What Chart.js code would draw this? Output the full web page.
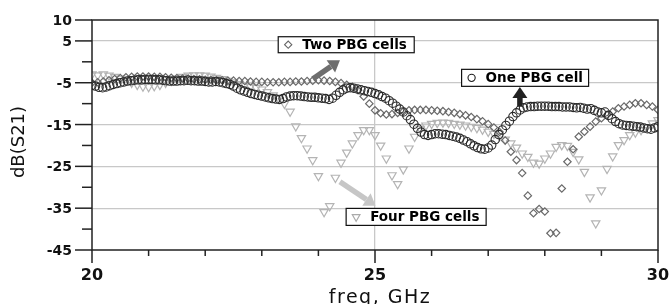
<!DOCTYPE html>
<html>
<head>
<meta charset="utf-8">
<script src="https://cdn.jsdelivr.net/npm/chart.js@4"></script>
<style>
  html, body { margin: 0; padding: 0; background: #fff; }
  canvas { display: block; }
</style>
</head>
<body>
<canvas id="chart" width="669" height="304"></canvas>
<script>
// sweep 20..30 GHz
const freqStart = 20;
const circleStep = 0.0625;
const markStep = 0.1;

// One PBG cell (circles), 161 points
const onePBG = [
  -5.6, -5.8, -6.1, -6.2, -6.0, -5.7, -5.4, -5.2, -5.0, -4.8, -4.6, -4.5, -4.4, -4.3, -4.3, -4.2,
  -4.2, -4.2, -4.3, -4.3, -4.4, -4.5, -4.6, -4.6, -4.6, -4.5, -4.5, -4.4, -4.5, -4.5, -4.6, -4.6,
  -4.7, -4.8, -4.8, -4.7, -4.8, -5.0, -5.2, -5.4, -5.8, -6.3, -6.7, -7.0, -7.3, -7.6, -7.8, -8.0,
  -8.2, -8.4, -8.6, -8.8, -8.9, -9.0, -8.8, -8.4, -8.2, -8.1, -8.1, -8.2, -8.3, -8.4, -8.5, -8.5,
  -8.6, -8.7, -8.8, -9.0, -8.7, -8.0, -7.3, -6.7, -6.3, -6.2, -6.3, -6.5, -6.7, -6.9, -7.1, -7.3,
  -7.6, -7.9, -8.3, -8.7, -9.3, -9.9, -10.6, -11.3, -12.0, -12.9, -13.8, -14.9, -15.9, -16.8, -17.4, -17.6,
  -17.4, -17.2, -17.2, -17.3, -17.4, -17.6, -17.8, -18.0, -18.3, -18.7, -19.1, -19.6, -20.1, -20.5, -20.8, -20.9,
  -20.6, -19.9, -18.6, -17.4, -16.3, -15.2, -14.2, -13.1, -12.2, -11.5, -11.0, -10.8, -10.7, -10.7, -10.6, -10.6,
  -10.6, -10.6, -10.7, -10.7, -10.7, -10.8, -10.8, -10.8, -10.9, -11.0, -10.9, -11.1, -11.3, -11.2, -11.6, -12.0,
  -12.2, -12.0, -12.8, -13.6, -14.3, -14.8, -15.1, -15.2, -15.3, -15.4, -15.5, -15.6, -15.8, -16.0, -16.1, -15.8,
  -15.5
];

// Two PBG cells (diamonds), 101 points
const twoPBG = [
  -5.0, -4.9, -4.7, -4.4, -4.1, -3.9, -3.7, -3.6, -3.5, -3.5,
  -3.5, -3.6, -3.6, -3.7, -3.8, -3.9, -4.0, -4.0, -4.1, -4.2,
  -4.3, -4.3, -4.4, -4.4, -4.5, -4.5, -4.6, -4.6, -4.7, -4.8,
  -4.8, -4.9, -4.9, -4.9, -4.8, -4.8, -4.7, -4.7, -4.6, -4.5,
  -4.4, -4.5, -4.6, -4.8, -5.1, -5.5, -6.0, -6.8, -8.3, -10.0,
  -11.6, -12.3, -12.6, -12.5, -12.2, -11.9, -11.6, -11.5, -11.5, -11.5,
  -11.6, -11.7, -11.8, -12.0, -12.2, -12.5, -12.8, -13.2, -13.7, -14.2,
  -14.9, -15.7, -16.8, -18.8, -21.5, -23.5, -26.6, -32.0, -36.2, -35.2,
  -35.8, -41.0, -40.9, -30.3, -23.9, -20.9, -17.9, -16.7, -15.5, -14.3,
  -13.5, -12.7, -11.9, -11.1, -10.7, -10.3, -9.9, -9.9, -10.3, -10.7,
  -11.5
];

// Four PBG cells (triangles), 101 points
const fourPBG = [
  -3.0, -3.2, -3.0, -3.3, -3.6, -4.0, -4.5, -5.0, -5.5, -5.9,
  -6.0, -5.8, -5.5, -5.0, -4.5, -4.0, -3.6, -3.3, -3.2, -3.2,
  -3.3, -3.5, -3.8, -4.1, -4.5, -4.9, -5.3, -5.6, -5.9, -6.2,
  -6.6, -7.2, -8.0, -8.8, -10.0, -11.9, -15.4, -18.2, -20.7, -23.5,
  -27.3, -35.9, -34.5, -27.7, -24.1, -21.7, -19.5, -17.5, -16.3, -16.3,
  -17.5, -20.0, -23.1, -27.1, -29.2, -25.7, -20.7, -17.9, -16.0, -15.2,
  -14.8, -14.6, -14.5, -14.6, -14.8, -15.0, -15.2, -15.5, -15.8, -16.2,
  -16.7, -17.2, -17.8, -18.6, -19.5, -20.5, -21.9, -22.7, -24.1, -24.3,
  -23.1, -21.9, -20.3, -19.9, -20.1, -21.5, -23.3, -26.3, -32.4, -38.6,
  -30.7, -25.6, -22.6, -19.9, -18.7, -17.5, -16.9, -16.3, -15.6, -14.7,
  -13.9
];

// axes
const yTickLabels = [10, 5, -5, -15, -25, -35, -45];
const yGridLines = [5, -5, -15, -25, -35];
const xTickLabels = [20, 25, 30];
const xGridLines = [25];

// callouts (data coords)
const callouts = [
  { text: 'Two PBG cells', f: 23.29, db: 6.0, w: 136, h: 16, style: 'rectRot', color: '#666',
    arrow: [23.90, -4.1, 24.38, 0.4], arrowColor: '#6e6e6e' },
  { text: 'One PBG cell', f: 26.53, db: -1.8, w: 127, h: 17, style: 'circle', color: '#1e1e1e',
    arrow: [27.56, -10.7, 27.56, -6.0], arrowColor: '#222' },
  { text: 'Four PBG cells', f: 24.49, db: -35.05, w: 140, h: 17, style: 'triangle', color: '#aaa',
    arrow: [24.38, -28.7, 25.01, -34.4], arrowColor: '#c6c6c6' }
];

const toPoints = (vals, step) => vals.map((v, i) => ({ x: freqStart + i * step, y: v }));
const near = (v, list) => list.some(l => Math.abs(l - v) < 1e-6);

function arrow(ctx, x1, y1, x2, y2, color) {
  const a = Math.atan2(y2 - y1, x2 - x1);
  const hl = 11, hw = 15;
  const bx = x2 - Math.cos(a) * hl, by = y2 - Math.sin(a) * hl;
  ctx.save();
  ctx.strokeStyle = color;
  ctx.fillStyle = color;
  ctx.lineWidth = 5.5;
  ctx.beginPath();
  ctx.moveTo(x1, y1);
  ctx.lineTo(bx, by);
  ctx.stroke();
  ctx.beginPath();
  ctx.moveTo(x2, y2);
  ctx.lineTo(bx + Math.sin(a) * hw / 2, by - Math.cos(a) * hw / 2);
  ctx.lineTo(bx - Math.sin(a) * hw / 2, by + Math.cos(a) * hw / 2);
  ctx.closePath();
  ctx.fill();
  ctx.restore();
}

const decor = {
  id: 'decor',
  afterDatasetsDraw(chart) {
    const { ctx, chartArea: a, scales: { x, y } } = chart;
    ctx.save();

    // frame
    ctx.strokeStyle = '#222';
    ctx.lineWidth = 1.5;
    ctx.strokeRect(a.left, a.top, a.right - a.left, a.bottom - a.top);

    // y ticks + labels
    ctx.font = "bold 14px 'DejaVu Sans', sans-serif";
    ctx.fillStyle = '#111';
    ctx.textAlign = 'right';
    ctx.textBaseline = 'alphabetic';
    y.ticks.forEach(t => {
      const py = y.getPixelForValue(t.value);
      const major = near(t.value, yTickLabels);
      ctx.beginPath();
      ctx.moveTo(a.left - (major ? 17 : 10), py);
      ctx.lineTo(a.left, py);
      ctx.stroke();
      if (major) ctx.fillText(String(t.value), a.left - 20, py + 5);
    });

    // x ticks + labels
    ctx.font = "bold 16px 'DejaVu Sans', sans-serif";
    ctx.textAlign = 'center';
    x.ticks.forEach(t => {
      const px = x.getPixelForValue(t.value);
      const major = near(t.value, xTickLabels);
      ctx.beginPath();
      ctx.moveTo(px, a.bottom);
      ctx.lineTo(px, a.bottom + (major ? 13 : 6));
      ctx.stroke();
      if (major) ctx.fillText(String(t.value), px, a.bottom + 30);
    });

    // axis titles
    ctx.font = "19px 'DejaVu Sans', sans-serif";
    if ('letterSpacing' in ctx) ctx.letterSpacing = '1.5px';
    ctx.fillText('freq, GHz', (a.left + a.right) / 2 + 5, 303);
    ctx.save();
    ctx.translate(19, 142);
    ctx.rotate(-Math.PI / 2);
    ctx.textBaseline = 'middle';
    ctx.font = "18px 'DejaVu Sans', sans-serif";
    if ('letterSpacing' in ctx) ctx.letterSpacing = '0px';
    ctx.fillText('dB(S21)', 0, 0);
    ctx.restore();
    if ('letterSpacing' in ctx) ctx.letterSpacing = '0px';

    // callouts
    callouts.forEach(c => {
      const [f1, d1, f2, d2] = c.arrow;
      arrow(ctx, x.getPixelForValue(f1), y.getPixelForValue(d1),
        x.getPixelForValue(f2), y.getPixelForValue(d2), c.arrowColor);
      const bx = x.getPixelForValue(c.f), by = y.getPixelForValue(c.db);
      ctx.fillStyle = '#fff';
      ctx.fillRect(bx, by, c.w, c.h);
      ctx.strokeStyle = '#111';
      ctx.lineWidth = 1.2;
      ctx.strokeRect(bx, by, c.w, c.h);
      ctx.strokeStyle = c.color;
      ctx.lineWidth = 1.1;
      Chart.helpers.drawPoint(ctx, {
        pointStyle: c.style, radius: c.style === 'triangle' ? 4.5 : 3.6,
        rotation: c.style === 'triangle' ? 180 : 0, borderWidth: 1.1
      }, bx + 10, by + c.h / 2);
      ctx.fillStyle = '#000';
      ctx.font = "bold 13.5px 'DejaVu Sans', sans-serif";
      ctx.textAlign = 'left';
      ctx.textBaseline = 'middle';
      ctx.fillText(c.text, bx + 24, by + c.h / 2 + 1);
    });

    ctx.restore();
  }
};

new Chart(document.getElementById('chart'), {
  type: 'scatter',
  data: {
    datasets: [
      {
        label: 'One PBG cell',
        data: toPoints(onePBG, circleStep),
        pointStyle: 'circle',
        pointRadius: 4.2,
        pointBorderWidth: 1.1,
        pointBorderColor: '#2a2a2a',
        pointBackgroundColor: 'rgba(0,0,0,0)'
      },
      {
        label: 'Two PBG cells',
        data: toPoints(twoPBG, markStep),
        pointStyle: 'rectRot',
        pointRadius: 3.7,
        pointBorderWidth: 1.2,
        pointBorderColor: '#6a6a6a',
        pointBackgroundColor: 'rgba(0,0,0,0)'
      },
      {
        label: 'Four PBG cells',
        data: toPoints(fourPBG, markStep),
        pointStyle: 'triangle',
        pointRotation: 180,
        pointRadius: 4.8,
        pointBorderWidth: 1.2,
        pointBorderColor: '#b4b4b4',
        pointBackgroundColor: 'rgba(0,0,0,0)'
      }
    ]
  },
  options: {
    responsive: false,
    animation: false,
    devicePixelRatio: 1,
    events: [],
    layout: { padding: { top: 20, right: 11, left: 0, bottom: 0 } },
    plugins: { legend: { display: false }, tooltip: { enabled: false } },
    scales: {
      x: {
        type: 'linear', min: 20, max: 30,
        afterFit: s => { s.height = 54; },
        ticks: { stepSize: 1, display: false },
        border: { display: false },
        grid: {
          drawTicks: false, lineWidth: 1.3,
          color: c => near(c.tick.value, xGridLines) ? '#c8c8c8' : 'rgba(0,0,0,0)'
        }
      },
      y: {
        min: -45, max: 10,
        afterFit: s => { s.width = 92; },
        ticks: { stepSize: 5, display: false },
        border: { display: false },
        grid: {
          drawTicks: false, lineWidth: 1.3,
          color: c => near(c.tick.value, yGridLines) ? '#c8c8c8' : 'rgba(0,0,0,0)'
        }
      }
    }
  },
  plugins: [decor]
});
</script>
</body>
</html>
